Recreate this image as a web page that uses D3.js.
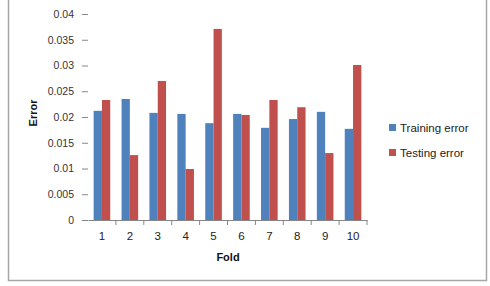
<html>
<head>
<style>
  body { margin: 0; background: #fff; }
  text { font-family: "Liberation Sans", Arial, sans-serif; }
</style>
</head>
<body>
<script src="https://d3js.org/d3.v7.min.js"></script>
<script>

var folds = ['1', '2', '3', '4', '5', '6', '7', '8', '9', '10'];
var trainingError = [0.0212, 0.0235, 0.0208, 0.0206, 0.0188, 0.0206, 0.0179, 0.0196, 0.0210, 0.0177];
var testingError  = [0.0233, 0.0126, 0.0270, 0.0099, 0.0371, 0.0204, 0.0233, 0.0219, 0.0130, 0.0301];
var seriesNames = ['Training error', 'Testing error'];
var yTicks = [0, 0.005, 0.01, 0.015, 0.02, 0.025, 0.03, 0.035, 0.04];

var width = 490,
    height = 286;

var colors = ['#4f81bd', '#c0504d'];

var plotLeft = 88,
    plotRight = 367,
    plotTop = 14,
    plotBottom = 220;

var svg = d3.select('body').append('svg')
    .attr('width', width)
    .attr('height', height);

// chart frame (top edge is cut off in the picture)
svg.append('path')
    .attr('d', 'M8.5,0 V280.5 H486.5 V0')
    .attr('fill', 'none')
    .attr('stroke', '#a6a6a6')
    .attr('stroke-width', 1.5);

var x = d3.scaleBand()
    .domain(folds)
    .range([plotLeft, plotRight])
    .paddingInner(0)
    .paddingOuter(0);

var x1 = d3.scaleBand()
    .domain([0, 1])
    .range([0, x.bandwidth()])
    .paddingOuter(0.68)
    .paddingInner(0);

var y = d3.scaleLinear()
    .domain([0, 0.04])
    .range([plotBottom, plotTop]);

// y axis: tick marks and labels only
var yAxis = svg.append('g')
    .attr('transform', 'translate(' + plotLeft + ',0)')
    .call(d3.axisLeft(y).tickValues(yTicks).tickSize(6).tickPadding(6)
        .tickFormat(function(d) { return d === 0 ? '0' : d3.format('')(+d.toFixed(3)); }));
yAxis.select('.domain').remove();
yAxis.selectAll('line').attr('stroke', '#868686');
yAxis.selectAll('text')
    .attr('fill', '#333')
    .style('font-size', '10.5px')
    .attr('dx', -2);

// bars
var groups = svg.append('g').selectAll('g')
    .data(folds)
    .join('g')
    .attr('transform', function(d) { return 'translate(' + x(d) + ',0)'; });

groups.selectAll('rect')
    .data(function(d, i) { return [trainingError[i], testingError[i]]; })
    .join('rect')
    .attr('x', function(d, j) { return x1(j); })
    .attr('y', function(d) { return y(d); })
    .attr('width', x1.bandwidth())
    .attr('height', function(d) { return y(0) - y(d); })
    .attr('fill', function(d, j) { return colors[j]; });

// x axis
var xAxis = svg.append('g')
    .attr('transform', 'translate(0,' + plotBottom + ')')
    .call(d3.axisBottom(x).tickSize(0).tickPadding(12));
xAxis.select('.domain').attr('stroke', '#868686');
xAxis.selectAll('text')
    .attr('fill', '#222')
    .style('font-size', '11.5px');

// tick marks between categories
svg.append('g').selectAll('line')
    .data(folds)
    .join('line')
    .attr('x1', function(d) { return x(d) + x.bandwidth(); })
    .attr('x2', function(d) { return x(d) + x.bandwidth(); })
    .attr('y1', plotBottom)
    .attr('y2', plotBottom + 5)
    .attr('stroke', '#868686');

// axis titles
svg.append('text')
    .attr('x', 228)
    .attr('y', 261)
    .attr('text-anchor', 'middle')
    .style('font-size', '11px')
    .style('font-weight', 'bold')
    .attr('fill', '#111')
    .text('Fold');

svg.append('text')
    .attr('transform', 'translate(37,113) rotate(-90)')
    .attr('text-anchor', 'middle')
    .style('font-size', '11px')
    .style('font-weight', 'bold')
    .attr('fill', '#111')
    .text('Error');

// legend
var legend = svg.append('g').selectAll('g')
    .data(seriesNames)
    .join('g')
    .attr('transform', function(d, i) { return 'translate(389,' + (124 + i * 25) + ')'; });

legend.append('rect')
    .attr('width', 7)
    .attr('height', 7)
    .attr('fill', function(d, i) { return colors[i]; });

legend.append('text')
    .attr('x', 11)
    .attr('y', 7.5)
    .style('font-size', '11.5px')
    .attr('fill', '#222')
    .text(function(d) { return d; });

</script>
</body>
</html>
